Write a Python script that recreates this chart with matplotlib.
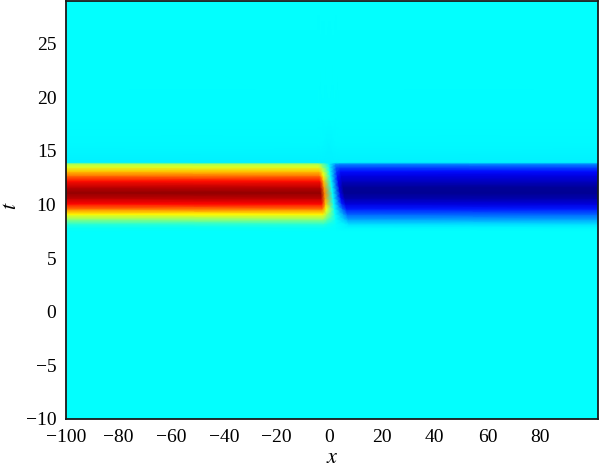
import numpy as np
import matplotlib
matplotlib.use("Agg")
import matplotlib.pyplot as plt
from matplotlib.colors import LinearSegmentedColormap

# MATLAB-style jet
jet_pos = [0.0, 1/8, 3/8, 5/8, 7/8, 1.0]
jet_rgb = [(0, 0, 0.5), (0, 0, 1), (0, 1, 1), (1, 1, 0), (1, 0, 0), (0.5, 0, 0)]
jet = LinearSegmentedColormap.from_list("mjet", list(zip(jet_pos, jet_rgb)))

# field samples (normalised colour value) read along t
t_nodes = [-10, 7.5, 7.85, 8.2, 8.65, 9.1, 9.6, 10.07, 10.6, 11.1, 11.6, 12.2, 12.7, 13.1, 13.5, 13.8, 13.95, 15.5, 18, 29]
left_profile = [0.375, 0.375, 0.385, 0.42, 0.52, 0.63, 0.76, 0.87, 0.94, 0.98, 0.94, 0.86, 0.76, 0.68, 0.59, 0.54, 0.362, 0.368, 0.373, 0.375]
left_edge_profile = [0.375, 0.375, 0.38, 0.40, 0.47, 0.55, 0.62, 0.68, 0.72, 0.74, 0.72, 0.68, 0.63, 0.58, 0.52, 0.48, 0.362, 0.368, 0.373, 0.375]
gap_profile = [0.375, 0.375, 0.375, 0.375, 0.38, 0.38, 0.38, 0.38, 0.38, 0.38, 0.38, 0.38, 0.38, 0.38, 0.38, 0.37, 0.36, 0.365, 0.373, 0.375]
right_edge_profile = [0.375, 0.375, 0.37, 0.36, 0.32, 0.28, 0.22, 0.16, 0.12, 0.10, 0.10, 0.12, 0.15, 0.18, 0.22, 0.27, 0.362, 0.368, 0.373, 0.375]
right_profile = [0.375, 0.375, 0.37, 0.34, 0.28, 0.22, 0.15, 0.09, 0.045, 0.02, 0.025, 0.07, 0.10, 0.14, 0.20, 0.26, 0.362, 0.368, 0.373, 0.375]

# where the left band ends / right band starts, per t row
left_end_x = [-0.8, -0.8, -0.8, -0.8, -0.95, -1.1, -1.27, -1.43, -1.61, -1.78, -1.95, -2.16, -2.33, -2.46, -2.6, -2.7, -2.7, -2.7, -2.7, -2.7]
right_start_x = [6.0, 6.0, 6.0, 6.0, 5.7, 5.4, 5.07, 4.77, 4.42, 4.09, 3.76, 3.37, 3.04, 2.77, 2.5, 2.3, 2.3, 2.3, 2.3, 2.3]

x_min, x_max = -100, 102
xticks = [-100, -80, -60, -40, -20, 0, 20, 40, 60, 80]
yticks = [-10, -5, 0, 5, 10, 15, 20, 25]

L = np.array(left_end_x)
R = np.array(right_start_x)
X = np.column_stack([np.full_like(L, x_min), L - 1.5, L, (L + R) / 2, R, R + 1.5, np.full_like(L, x_max)])
T = np.repeat(np.array(t_nodes, dtype=float)[:, None], X.shape[1], axis=1)
C = np.column_stack([left_profile, left_profile, left_edge_profile, gap_profile,
                     right_edge_profile, right_profile, right_profile])

plt.rcParams['font.family'] = ['Liberation Serif', 'DejaVu Serif']
plt.rcParams['mathtext.fontset'] = 'stix'

fig = plt.figure(figsize=(6, 4.68), dpi=100)
ax = fig.add_axes([0.11, 0.105, 0.887, 0.893])
ax.pcolormesh(X, T, C, shading='gouraud', cmap=jet, vmin=0, vmax=1, rasterized=True)

ax.set_xlim(x_min, x_max)
ax.set_ylim(-10, 29)
ax.set_xticks(xticks)
ax.set_yticks(yticks)
ax.tick_params(length=0, labelsize=14, pad=7, colors='black')
for s in ax.spines.values():
    s.set_color('#1a1a1a')
    s.set_linewidth(1.3)
ax.set_xlabel('$x$', fontsize=16, va='center')
ax.set_ylabel('$t$', fontsize=16, va='center')
ax.xaxis.set_label_coords(0.5, -0.095)
ax.yaxis.set_label_coords(-0.103, 0.51)

fig.savefig('out.png', dpi=100)
